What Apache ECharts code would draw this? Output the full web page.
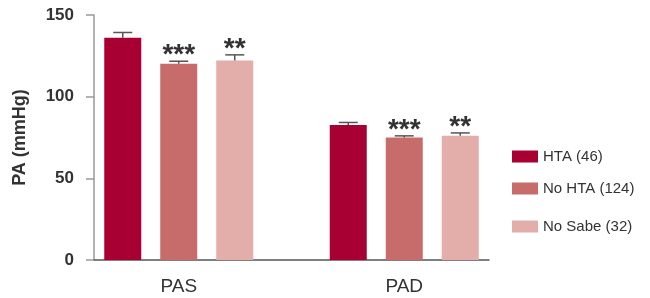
<!DOCTYPE html>
<html>
<head>
<meta charset="utf-8">
<script src="https://cdn.jsdelivr.net/npm/echarts@6/dist/echarts.min.js"></script>
<style>html,body{margin:0;padding:0;background:#fff}#c{width:650px;height:298px}</style>
</head>
<body>
<div id="c"></div>
<script>
const categories = ['PAS', 'PAD'];
const seriesNames = ['HTA (46)', 'No HTA (124)', 'No Sabe (32)'];
const htaValues = [136, 82.6];
const noHtaValues = [120.2, 75.0];
const noSabeValues = [122.1, 76.0];
const htaErr = [3.3, 1.6];
const noHtaErr = [1.5, 1.0];
const noSabeErr = [3.5, 1.8];
const htaStars = ['', ''];
const noHtaStars = ['***', '***'];
const noSabeStars = ['**', '**'];
const yTicks = [0, 50, 100, 150];
const yAxisName = 'PA (mmHg)';

const colors = ['#A80032', '#C76C6A', '#E3ADA9'];
const FONT = '"Liberation Sans", Arial, sans-serif';
const BAR_W = 37, BAR_GAP = 19;
const STEP = BAR_W + BAR_GAP;

const groups = [
  {name: seriesNames[0], vals: htaValues, err: htaErr, stars: htaStars},
  {name: seriesNames[1], vals: noHtaValues, err: noHtaErr, stars: noHtaStars},
  {name: seriesNames[2], vals: noSabeValues, err: noSabeErr, stars: noSabeStars}
];

const series = [];
groups.forEach((g, gi) => {
  series.push({
    type: 'bar', name: g.name, xAxisIndex: 1, yAxisIndex: 1,
    data: g.vals, barWidth: BAR_W, barGap: (BAR_GAP / BAR_W * 100) + '%',
    itemStyle: {color: colors[gi]}, silent: true
  });
});
groups.forEach((g, gi) => {
  const off = (gi - 1) * STEP;
  series.push({
    type: 'custom', name: 'err' + gi, xAxisIndex: 1, yAxisIndex: 1, silent: true,
    data: g.vals.map((v, i) => [i, v, g.err[i]]),
    z: 5,
    renderItem: function (params, api) {
      const ci = api.value(0), v = api.value(1), e = api.value(2);
      const top = api.coord([ci, v + e]);
      const base = api.coord([ci, v]);
      const x = top[0] + off;
      const children = [
        {type: 'line', shape: {x1: x, y1: base[1], x2: x, y2: top[1]}, style: {stroke: '#555', lineWidth: 1.5}},
        {type: 'line', shape: {x1: x - 9.5, y1: top[1], x2: x + 9.5, y2: top[1]}, style: {stroke: '#555', lineWidth: 1.5}}
      ];
      const s = g.stars[params.dataIndex];
      if (s) {
        children.push({type: 'text', x: x, y: top[1] - 6,
          style: {text: s, fill: '#333', font: 'bold 28px ' + FONT, align: 'center', verticalAlign: 'middle'}});
      }
      return {type: 'group', children: children};
    }
  });
});

const legendCenters = [158, 190, 228];
const legends = seriesNames.map((n, i) => ({
  data: [n], orient: 'vertical', left: 512, top: legendCenters[i] - 9,
  itemWidth: 26, itemHeight: 12, itemGap: 5, icon: 'rect', selectedMode: false,
  textStyle: {fontSize: 15, color: '#333', fontFamily: FONT, padding: [0, 0, 0, 0]},
  padding: 0
}));

const option = {
  animation: false,
  backgroundColor: '#fff',
  legend: legends,
  grid: [
    {left: 94, right: 161, top: 15, bottom: 38},
    {left: 66, right: 133, top: 15, bottom: 38}
  ],
  xAxis: [
    {gridIndex: 0, type: 'category', data: categories, axisLabel: {show: false}, axisTick: {show: false},
     axisLine: {lineStyle: {color: '#555', width: 1.5}}},
    {gridIndex: 1, type: 'category', data: categories, axisLine: {show: false}, axisTick: {show: false},
     axisLabel: {fontSize: 19, color: '#333', fontFamily: FONT, margin: 17}}
  ],
  yAxis: [
    {gridIndex: 0, type: 'value', min: yTicks[0], max: yTicks[yTicks.length - 1], interval: 50,
     name: yAxisName, nameLocation: 'middle', nameGap: 65,
     nameTextStyle: {fontSize: 18, fontWeight: 'bold', color: '#333', fontFamily: FONT},
     axisLine: {show: true, lineStyle: {color: '#999', width: 1.5}},
     axisTick: {show: true, length: 8, lineStyle: {color: '#999', width: 1.5}},
     axisLabel: {fontSize: 17, fontWeight: 'bold', color: '#333', fontFamily: FONT, margin: 20},
     splitLine: {show: false}},
    {gridIndex: 1, type: 'value', min: yTicks[0], max: yTicks[yTicks.length - 1], interval: 50, show: false,
     splitLine: {show: false}}
  ],
  series: series
};
const chart = echarts.init(document.getElementById('c'), null, {renderer: 'canvas'});
chart.setOption(option);
</script>
</body>
</html>
